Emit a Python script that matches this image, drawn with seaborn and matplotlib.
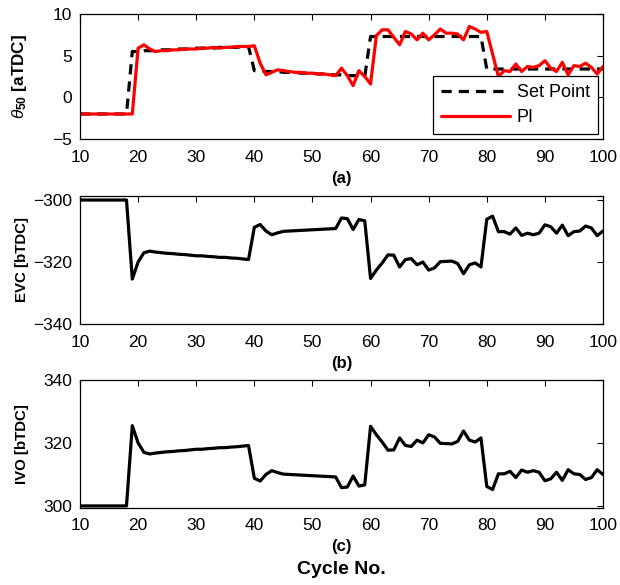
import numpy as np
import pandas as pd
import seaborn as sns
import matplotlib
matplotlib.use("Agg")
import matplotlib.pyplot as plt

# Engine cycle index
cycles = list(range(10, 101))

# Combustion phasing set point and PI-controlled response [deg aTDC]
set_point = (
    [-2.0] * 9
    + [5.5, 5.5, 5.6, 5.6, 5.6, 5.7, 5.7, 5.7, 5.8, 5.8, 5.8, 5.9, 5.9, 5.9, 5.9, 6.0, 6.0, 6.0, 6.0, 6.1, 6.1]
    + [3.2, 3.2, 3.1, 3.1, 3.1, 3.0, 3.0, 3.0, 2.9, 2.9, 2.9, 2.8, 2.8, 2.7, 2.7, 2.7, 2.6, 2.6, 2.6, 2.5]
    + [7.3] * 20
    + [3.4] * 21
)

theta50_pi = [
    -2.0, -2.0, -2.0, -2.0, -2.0, -2.0, -2.0, -2.0, -2.0, -2.0,          # 10-19
    5.9, 6.3, 5.8, 5.5, 5.6, 5.6, 5.7, 5.7, 5.8, 5.8,                    # 20-29
    5.8, 5.9, 5.9, 6.0, 5.9, 6.0, 6.0, 6.1, 6.1, 6.1,                    # 30-39
    6.2, 4.1, 2.7, 3.0, 3.3, 3.2, 3.1, 3.0, 3.0, 2.9,                    # 40-49
    2.9, 2.8, 2.8, 2.7, 2.6, 3.5, 2.6, 1.4, 3.2, 2.5,                    # 50-59
    1.6, 7.4, 8.1, 8.1, 7.2, 6.3, 7.9, 7.6, 6.9, 7.7,                    # 60-69
    6.9, 7.5, 8.2, 7.7, 7.7, 7.6, 6.9, 8.5, 8.2, 7.8,                    # 70-79
    7.9, 5.2, 2.5, 3.2, 3.1, 4.0, 3.1, 3.7, 3.6, 3.8,                    # 80-89
    4.4, 3.5, 3.1, 4.2, 2.7, 3.8, 3.7, 4.1, 3.6, 2.8,                    # 90-99
    3.7,                                                                  # 100
]

# Exhaust valve closing timing [deg bTDC]
evc = [
    -300.0, -300.0, -300.0, -300.0, -300.0, -300.0, -300.0, -300.0, -300.0,   # 10-18
    -325.5, -320.0, -317.0, -316.5, -316.8, -317.0, -317.2, -317.3, -317.5, -317.6, -317.8,  # 19-29
    -318.0, -318.0, -318.2, -318.3, -318.5, -318.5, -318.7, -318.8, -319.0, -319.2,  # 30-39
    -308.8, -307.9, -310.0, -311.2, -310.6, -310.1, -310.0, -309.9, -309.8, -309.7,  # 40-49
    -309.6, -309.5, -309.4, -309.3, -309.2, -305.8, -306.0, -309.5, -306.3, -306.7,  # 50-59
    -325.3, -322.6, -320.3, -317.7, -317.8, -321.6, -319.2, -318.9, -320.9, -320.0,  # 60-69
    -322.6, -321.9, -319.9, -319.8, -319.7, -320.5, -323.8, -320.9, -320.3, -321.6,  # 70-79
    -306.2, -305.2, -310.2, -310.2, -311.0, -309.0, -311.4, -310.7, -311.2, -310.7,  # 80-89
    -308.0, -308.6, -310.7, -308.1, -311.5, -310.2, -310.0, -308.4, -309.0, -311.5,  # 90-99
    -310.0,                                                                       # 100
]

# Intake valve opening timing [deg bTDC]
ivo = [
    300.0, 300.0, 300.0, 300.0, 300.0, 300.0, 300.0, 300.0, 300.0,            # 10-18
    325.5, 320.0, 317.0, 316.5, 316.8, 317.0, 317.2, 317.3, 317.5, 317.6, 317.8,  # 19-29
    318.0, 318.0, 318.2, 318.3, 318.5, 318.5, 318.7, 318.8, 319.0, 319.2,     # 30-39
    308.8, 307.9, 310.0, 311.2, 310.6, 310.1, 310.0, 309.9, 309.8, 309.7,     # 40-49
    309.6, 309.5, 309.4, 309.3, 309.2, 305.8, 306.0, 309.5, 306.3, 306.7,     # 50-59
    325.3, 322.6, 320.3, 317.7, 317.8, 321.6, 319.2, 318.9, 320.9, 320.0,     # 60-69
    322.6, 321.9, 319.9, 319.8, 319.7, 320.5, 323.8, 320.9, 320.3, 321.6,     # 70-79
    306.2, 305.2, 310.2, 310.2, 311.0, 309.0, 311.4, 310.7, 311.2, 310.7,     # 80-89
    308.0, 308.6, 310.7, 308.1, 311.5, 310.2, 310.0, 308.4, 309.0, 311.5,     # 90-99
    310.0,                                                                     # 100
]

x_ticks = [10, 20, 30, 40, 50, 60, 70, 80, 90, 100]

df = pd.DataFrame({
    "cycle": cycles,
    "set_point": set_point,
    "pi": theta50_pi,
    "evc": evc,
    "ivo": ivo,
})

sns.set_theme(style="white")
plt.rcParams["font.family"] = ["Liberation Sans", "DejaVu Sans"]
plt.rcParams["mathtext.fontset"] = "custom"
plt.rcParams["mathtext.rm"] = "Liberation Sans"
plt.rcParams["mathtext.bf"] = "Liberation Sans:bold"
plt.rcParams["mathtext.it"] = "Liberation Sans:italic"
plt.rcParams["text.color"] = "black"
plt.rcParams["axes.labelcolor"] = "black"

W, H = 620, 585
fig = plt.figure(figsize=(W / 100, H / 100), dpi=100)


def axes_px(left, top, right, bottom):
    return fig.add_axes([left / W, 1 - bottom / H, (right - left) / W, (bottom - top) / H])


ax1 = axes_px(80, 14, 603, 139)
ax2 = axes_px(80, 196, 603, 324)
ax3 = axes_px(80, 380, 603, 507.5)

LW = 2.3
TICK_FS = 12.5
LABEL_FS = 10.8
TAG_FS = 12

sns.lineplot(data=df, x="cycle", y="set_point", ax=ax1, color="black",
             linewidth=LW, linestyle=(0, (3.2, 2.2)), label="Set Point")
sns.lineplot(data=df, x="cycle", y="pi", ax=ax1, color="#ff0000",
             linewidth=LW, label="PI")
sns.lineplot(data=df, x="cycle", y="evc", ax=ax2, color="black", linewidth=LW)
sns.lineplot(data=df, x="cycle", y="ivo", ax=ax3, color="black", linewidth=LW)

ax1.set_ylim(-5, 10)
ax1.set_yticks([-5, 0, 5, 10])
ax2.set_ylim(-340, -298.7)
ax2.set_yticks([-340, -320, -300])
ax3.set_ylim(299.5, 340)
ax3.set_yticks([300, 320, 340])

ax1.set_ylabel(r"$\theta_{\mathbf{50}}$ [aTDC]", fontsize=12.3, fontweight="bold")
ax2.set_ylabel("EVC [bTDC]", fontsize=LABEL_FS, fontweight="bold")
ax3.set_ylabel("IVO [bTDC]", fontsize=LABEL_FS, fontweight="bold")

for ax, tag in zip([ax1, ax2, ax3], ["(a)", "(b)", "(c)"]):
    ax.set_xlim(10, 100)
    ax.set_xticks(x_ticks)
    ax.set_xlabel(tag, fontsize=TAG_FS, fontweight="bold", labelpad=4.5)
    ax.tick_params(direction="in", length=4, width=0.8, top=True, right=True,
                   labelsize=TICK_FS, pad=5.5, colors="black")
    ax.tick_params(axis="x", pad=7.7)
    for sp in ax.spines.values():
        sp.set_color("black")
        sp.set_linewidth(0.9)
    ax.yaxis.set_label_coords(-0.097, 0.5)

fig.text(341.5 / W, 1 - 570 / H, "Cycle No.", ha="center", va="center",
         fontsize=14, fontweight="bold", color="black")

leg = ax1.legend(loc="lower right", fontsize=13, frameon=True, fancybox=False,
                 edgecolor="black", framealpha=1, handlelength=3.8,
                 handletextpad=0.4, labelspacing=0.45, borderpad=0.42,
                 borderaxespad=0.3)
leg.get_frame().set_linewidth(0.9)

fig.savefig("out.png", dpi=100)
